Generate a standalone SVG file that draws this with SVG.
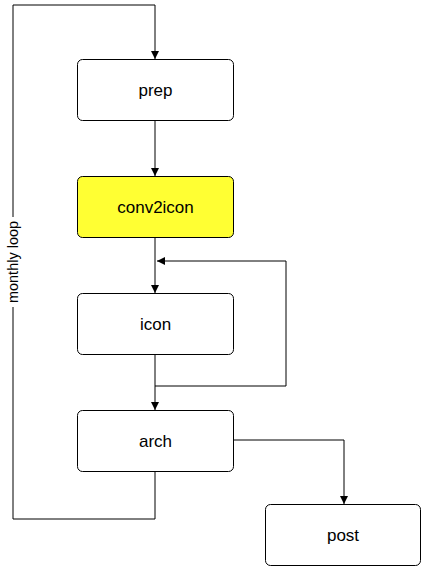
<svg xmlns="http://www.w3.org/2000/svg" width="421" height="567" viewBox="0 0 421 567">
<defs>
<marker id="ah" viewBox="0 0 10 10" refX="10" refY="5" markerWidth="8" markerHeight="8" markerUnits="userSpaceOnUse" orient="auto">
<path d="M0,0 L10,5 L0,10 z" fill="#000"/>
</marker>
<style>
.box{fill:#fff;stroke:#000;stroke-width:1}
.lbl{font-family:"Liberation Sans",Arial,sans-serif;font-size:17px;fill:#000;text-anchor:middle}
.side{font-family:"Liberation Sans",Arial,sans-serif;font-size:14.5px;fill:#000;text-anchor:middle;dominant-baseline:central}
.edge{fill:none;stroke:#000;stroke-width:1}
</style>
</defs>
<rect width="421" height="567" fill="#fff"/>
<g id="connectors">
<path class="edge" d="M155,471 V519 H13 V5 H155 V59" marker-end="url(#ah)"/>
<path class="edge" d="M155,120 V176" marker-end="url(#ah)"/>
<path class="edge" d="M155,237 V293" marker-end="url(#ah)"/>
<path class="edge" d="M155,354 V410" marker-end="url(#ah)"/>
<path class="edge" d="M155,386 H286 V261 H157" marker-end="url(#ah)"/>
<path class="edge" d="M233,440 H344 V504" marker-end="url(#ah)"/>
<rect x="5" y="217" width="16" height="90" fill="#fff"/>
<text class="side" transform="translate(13,262) rotate(-90)">monthly loop</text>
</g>
<g id="prep"><rect class="box" x="77.5" y="59.5" width="156" height="61" rx="5"/><text class="lbl" x="155.5" y="96">prep</text></g>
<g id="conv2icon"><rect class="box" x="77.5" y="176.5" width="156" height="61" rx="5" style="fill:#ffff33"/><text class="lbl" x="155.5" y="213">conv2icon</text></g>
<g id="icon"><rect class="box" x="77.5" y="293.5" width="156" height="61" rx="5"/><text class="lbl" x="155.5" y="330">icon</text></g>
<g id="arch"><rect class="box" x="77.5" y="410.5" width="156" height="61" rx="5"/><text class="lbl" x="155.5" y="447">arch</text></g>
<g id="post"><rect class="box" x="265.5" y="504.5" width="155" height="61" rx="5"/><text class="lbl" x="343" y="541">post</text></g>
</svg>
